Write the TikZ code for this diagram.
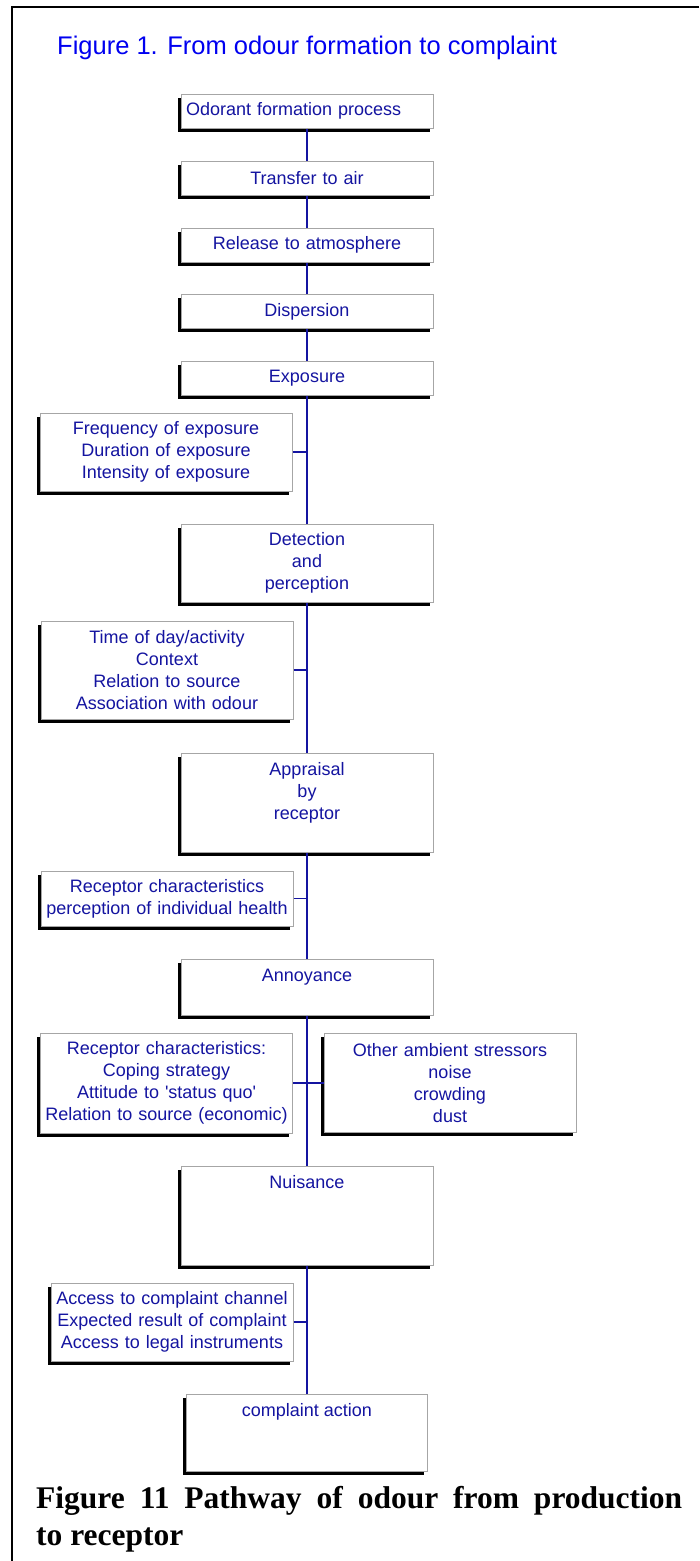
\documentclass[tikz,border=0pt]{standalone}
\usepackage{fontspec}
\setmainfont{Liberation Serif}
\newfontfamily\arial{Liberation Sans}
\usetikzlibrary{positioning,shadows}
\definecolor{navy}{RGB}{20,20,160}
\definecolor{titleblue}{RGB}{0,0,240}

\begin{document}
\begin{tikzpicture}[x=1pt,y=-1pt,
    box/.style={draw=gray!70, line width=1pt, fill=white, text=navy,
      font=\arial\fontsize{18}{22}\selectfont, align=center,
      inner xsep=3pt, inner ysep=0pt,
      drop shadow={shadow xshift=-3.5pt, shadow yshift=-3.5pt, fill=black, opacity=1}},
    txt/.style={text=navy, font=\arial\fontsize{18}{22}\selectfont, align=center, inner sep=0pt},
    link/.style={draw=navy, line width=1.3pt}]

  \useasboundingbox (0,0) rectangle (699,1561);
  % frame
  \draw[line width=2.5pt] (699,7) -- (12,7) -- (12,1561);

  \node[anchor=base west, text=titleblue, inner sep=0pt,
    font=\arial\fontsize{25.5}{30}\selectfont] (title) at (57,54)
    {Figure 1. From odour formation to complaint};

  % main chain
  \node[box, text width=242pt, inner xsep=5pt, align=left, minimum height=34pt] (odorant) at (307,111) {Odorant formation process};
  \node[box, text width=246pt, minimum height=34pt] (transfer) at (307,178) {Transfer to air};
  \node[box, text width=246pt, minimum height=34pt] (release) at (307,245) {Release to atmosphere};
  \node[box, text width=246pt, minimum height=34pt] (dispersion) at (307,311.5) {Dispersion};
  \node[box, text width=246pt, minimum height=34pt] (exposure) at (307,378.5) {Exposure};
  \node[box, text width=246pt, minimum height=78pt] (detection) at (307,563) {Detection\\and\\perception};
  \node[box, text width=246pt, minimum height=99pt] (appraisal) at (307,802.5) {};
  \node[box, text width=246pt, minimum height=56pt] (annoyance) at (307,987) {};
  \node[box, text width=246pt, minimum height=99pt] (nuisance) at (307,1215.5) {};
  \node[box, text width=235pt, minimum height=77pt] (complaint) at (307,1432.5) {};

  % texts at the top of the tall boxes
  \node[txt, below=10pt of appraisal.north] (appraisal-t) {Appraisal\\by\\receptor};
  \node[txt, below=10pt of annoyance.north] (annoyance-t) {Annoyance};
  \node[txt, below=10pt of nuisance.north] (nuisance-t) {Nuisance};
  \node[txt, below=10pt of complaint.north] (complaint-t) {complaint action};

  % side factors
  \node[box, text width=246pt, minimum height=78pt] (freq) at (166,452) {Frequency of exposure\\Duration of exposure\\Intensity of exposure};
  \node[box, text width=246pt, minimum height=98pt] (timeofday) at (167,670) {Time of day/activity\\Context\\Relation to source\\Association with odour};
  \node[box, text width=246pt, minimum height=55pt] (recchar) at (167,898.5) {Receptor characteristics\\perception of individual health};
  \node[box, text width=246pt, minimum height=100pt] (recchartwo) at (166.5,1083) {Receptor characteristics:\\Coping strategy\\Attitude to 'status quo'\\Relation to source (economic)};
  \node[box, text width=246pt, minimum height=99pt] (stressors) at (450,1083) {Other ambient stressors\\noise\\crowding\\dust};
  \node[box, text width=236pt, minimum height=78pt] (access) at (172,1322) {Access to complaint channel\\Expected result of complaint\\Access to legal instruments};

  % pathway
  \draw[link] (odorant) -- (transfer);
  \draw[link] (transfer) -- (release);
  \draw[link] (release) -- (dispersion);
  \draw[link] (dispersion) -- (exposure);
  \draw[link] (exposure) -- (detection);
  \draw[link] (detection) -- (appraisal);
  \draw[link] (appraisal) -- (annoyance);
  \draw[link] (annoyance) -- (nuisance);
  \draw[link] (nuisance) -- (complaint);

  \draw[link] (freq) -- (freq -| exposure.south);
  \draw[link] (timeofday) -- (timeofday -| exposure.south);
  \draw[link] (recchar) -- (recchar -| exposure.south);
  \draw[link] (recchartwo) -- (stressors);
  \draw[link] (access) -- (access -| exposure.south);

  \node[anchor=north west, inner sep=0pt, text width=646pt, align=justify,
    font=\bfseries\fontsize{31.5}{37}\selectfont] (caption) at (36,1486)
    {Figure 11 Pathway of odour from production\linebreak to receptor};
\end{tikzpicture}
\end{document}
